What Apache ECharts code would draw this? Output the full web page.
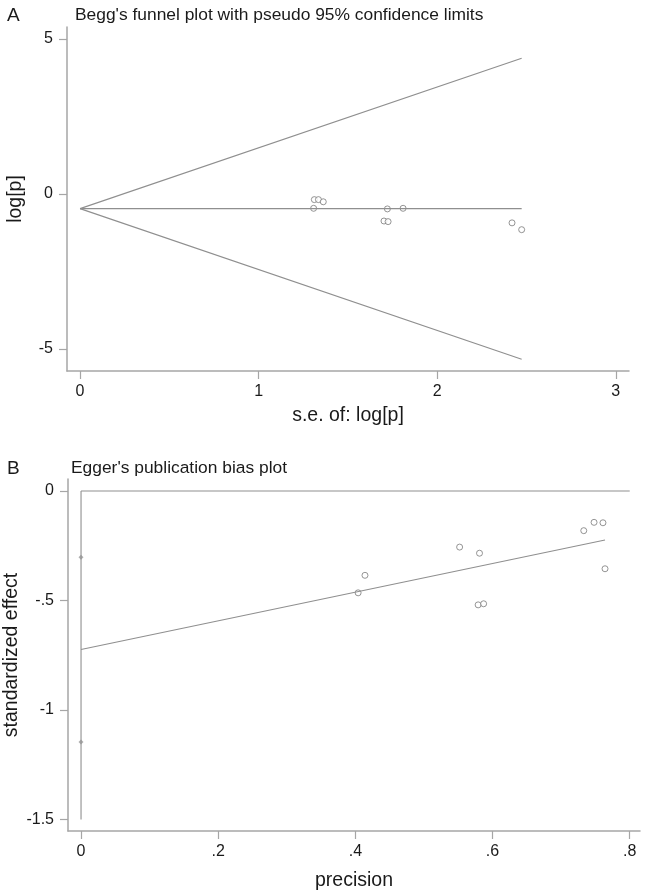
<!DOCTYPE html>
<html>
<head>
<meta charset="utf-8">
<script src="https://cdn.jsdelivr.net/npm/echarts@6/dist/echarts.min.js"></script>
<style>
  html, body { margin: 0; padding: 0; background: #fff; }
  #chart { width: 645px; height: 893px; }
</style>
</head>
<body>
<div id="chart"></div>
<script>
// Panel A: Begg's funnel plot (s.e. of log[p], log[p])
const beggPoints = [
  [1.312, -0.18], [1.335, -0.18], [1.362, -0.25], [1.308, -0.46],
  [1.721, -0.48], [1.809, -0.46], [1.702, -0.87], [1.725, -0.89],
  [2.419, -0.93], [2.473, -1.15]
];
const beggUpper = [[0, -0.47], [2.473, 4.38]];
const beggLower = [[0, -0.47], [2.473, -5.33]];
const beggMean = [[0, -0.47], [2.473, -0.47]];
const beggXTicks = [0, 1, 2, 3];
const beggYTicks = [-5, 0, 5];

// Panel B: Egger's publication bias plot (precision, standardized effect)
const eggerPoints = [
  [0.404, -0.465], [0.414, -0.385], [0.552, -0.256], [0.581, -0.284],
  [0.579, -0.52], [0.587, -0.515], [0.733, -0.181], [0.748, -0.143],
  [0.761, -0.145], [0.764, -0.355]
];
const eggerRegLine = [[0, -0.724], [0.764, -0.224]];
const eggerZeroLine = [[0, 0], [0.8, 0]];
const eggerCiLine = [[0, 0], [0, -1.5]];
const eggerCiEnds = [[0, -0.303], [0, -1.146]];
const eggerXTicks = [0, 0.2, 0.4, 0.6, 0.8];
const eggerYTicks = [-1.5, -1, -0.5, 0];

const font = 'Liberation Sans, Arial, sans-serif';
const axisGray = '#a6a6a6';
const lineGray = '#8f8f8f';

function fmtDot(v) {
  // Stata style: .2 instead of 0.2
  if (v === 0) return '0';
  let s = String(v);
  return s.replace(/^0\./, '.').replace(/^-0\./, '-.');
}

function axisCommon(ticks, isX) {
  return {
    type: 'value',
    axisLine: { show: true, onZero: false, lineStyle: { color: axisGray, width: 1.5 } },
    axisTick: { show: true, length: 8, customValues: ticks, lineStyle: { color: axisGray, width: 1.2 } },
    axisLabel: {
      customValues: ticks,
      formatter: fmtDot,
      color: '#1a1a1a',
      fontFamily: font,
      fontSize: 16,
      margin: isX ? 13 : 14
    },
    splitLine: { show: false },
    nameLocation: 'middle',
    nameMoveOverlap: false,
    nameTextStyle: { color: '#1a1a1a', fontFamily: font, fontSize: 19.5 }
  };
}

function lineSeries(data, xi, yi) {
  return {
    type: 'line', xAxisIndex: xi, yAxisIndex: yi, data: data,
    symbol: 'none', silent: true,
    lineStyle: { color: lineGray, width: 1.1 }
  };
}

const option = {
  backgroundColor: '#fff',
  animation: false,
  title: [
    { text: 'A', left: 2, top: 1, textStyle: { fontFamily: font, fontSize: 19, fontWeight: 'normal', color: '#1a1a1a' } },
    { text: "Begg's funnel plot with pseudo 95% confidence limits", left: 70, top: 2,
      textStyle: { fontFamily: font, fontSize: 17.4, fontWeight: 'normal', color: '#1a1a1a' } },
    { text: 'B', left: 2, top: 454, textStyle: { fontFamily: font, fontSize: 19, fontWeight: 'normal', color: '#1a1a1a' } },
    { text: "Egger's publication bias plot", left: 66, top: 455,
      textStyle: { fontFamily: font, fontSize: 17.4, fontWeight: 'normal', color: '#1a1a1a' } }
  ],
  grid: [
    { left: 67, right: 16, top: 27, bottom: 522, outerBoundsMode: 'none', containLabel: false },
    { left: 68, right: 5, top: 479, bottom: 62, outerBoundsMode: 'none', containLabel: false }
  ],
  xAxis: [
    Object.assign(axisCommon(beggXTicks, true), {
      gridIndex: 0, min: -0.073, max: 3.074, name: 's.e. of: log[p]', nameGap: 35
    }),
    Object.assign(axisCommon(eggerXTicks, true), {
      gridIndex: 1, min: -0.019, max: 0.815, name: 'precision', nameGap: 40
    })
  ],
  yAxis: [
    Object.assign(axisCommon(beggYTicks, false), {
      gridIndex: 0, min: -5.71, max: 5.39, name: 'log[p]', nameGap: 41
    }),
    Object.assign(axisCommon(eggerYTicks, false), {
      gridIndex: 1, min: -1.553, max: 0.055, name: 'standardized effect', nameGap: 46
    })
  ],
  series: [
    lineSeries(beggUpper, 0, 0),
    lineSeries(beggLower, 0, 0),
    lineSeries(beggMean, 0, 0),
    {
      type: 'scatter', xAxisIndex: 0, yAxisIndex: 0, data: beggPoints,
      symbol: 'circle', symbolSize: 6,
      itemStyle: { color: '#fff', borderColor: '#7a7a7a', borderWidth: 1 }
    },
    lineSeries(eggerZeroLine, 1, 1),
    lineSeries(eggerCiLine, 1, 1),
    lineSeries(eggerRegLine, 1, 1),
    {
      type: 'scatter', xAxisIndex: 1, yAxisIndex: 1, data: eggerCiEnds,
      symbol: 'diamond', symbolSize: 5,
      itemStyle: { color: '#9a9a9a' }
    },
    {
      type: 'scatter', xAxisIndex: 1, yAxisIndex: 1, data: eggerPoints,
      symbol: 'circle', symbolSize: 6,
      itemStyle: { color: '#fff', borderColor: '#7a7a7a', borderWidth: 1 }
    }
  ]
};

const chart = echarts.init(document.getElementById('chart'));
chart.setOption(option);
</script>
</body>
</html>
